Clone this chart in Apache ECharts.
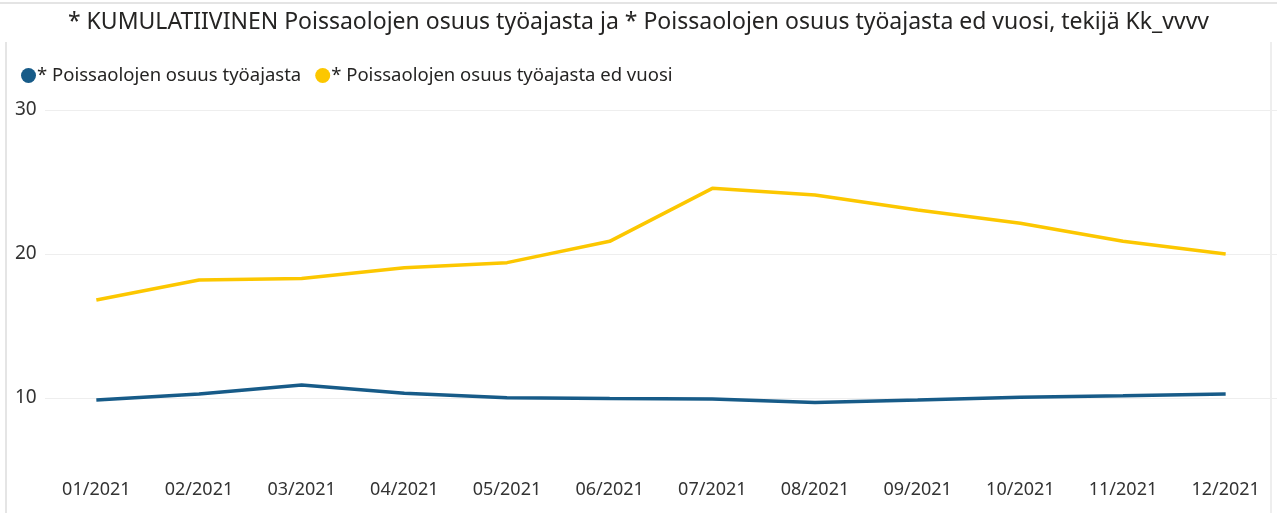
<!DOCTYPE html>
<html>
<head>
<meta charset="utf-8">
<script src="https://cdn.jsdelivr.net/npm/echarts@6/dist/echarts.min.js"></script>
<style>
  html, body { margin: 0; padding: 0; background: #fff; }
  #chart { width: 1277px; height: 513px; }
</style>
</head>
<body>
<div id="chart"></div>
<script>
// kuukaudet ja sarjat
const months = ['01/2021', '02/2021', '03/2021', '04/2021', '05/2021', '06/2021',
                '07/2021', '08/2021', '09/2021', '10/2021', '11/2021', '12/2021'];
const osuus = [9.86, 10.28, 10.9, 10.33, 10.02, 9.96, 9.93, 9.68, 9.86, 10.05, 10.16, 10.28];
const osuusEdVuosi = [16.8, 18.2, 18.3, 19.05, 19.4, 20.88, 24.56, 24.1, 23.06, 22.13, 20.88, 20.0];
const yTicks = [10, 20, 30];

const chart = echarts.init(document.getElementById('chart'));
const font = 'Noto Sans';

chart.setOption({
    animation: false,
    title: {
        text: '* KUMULATIIVINEN Poissaolojen osuus työajasta ja * Poissaolojen osuus työajasta ed vuosi, tekijä Kk_vvvv',
        left: 'center',
        top: 6,
        textStyle: { fontFamily: font, fontSize: 23, fontWeight: 'normal', color: '#252423' }
    },
    legend: {
        left: 16,
        top: 61,
        icon: 'circle',
        itemWidth: 15,
        itemHeight: 15,
        itemGap: 14,
        textStyle: { fontFamily: font, fontSize: 18.5, color: '#252423', padding: [0, 0, 0, -4] },
        data: ['* Poissaolojen osuus työajasta', '* Poissaolojen osuus työajasta ed vuosi']
    },
    grid: { left: 45, right: 0, top: 110, bottom: 115 },
    xAxis: {
        type: 'category',
        data: months,
        boundaryGap: true,
        axisLine: { show: false },
        axisTick: { show: false },
        axisLabel: { margin: 83, fontFamily: font, fontSize: 18, color: '#333' }
    },
    yAxis: {
        type: 'value',
        min: yTicks[0],
        max: yTicks[yTicks.length - 1],
        interval: 10,
        axisLine: { show: false },
        axisTick: { show: false },
        axisLabel: { align: 'left', margin: 30, fontFamily: font, fontSize: 19, color: '#333' },
        splitLine: { show: true, lineStyle: { color: '#eeeeee', width: 1 } }
    },
    graphic: [
        { type: 'line', shape: { x1: 0, y1: 3, x2: 1277, y2: 3 }, style: { stroke: '#e4e4e4', lineWidth: 2 } },
        { type: 'line', shape: { x1: 6, y1: 42, x2: 6, y2: 513 }, style: { stroke: '#dddddd', lineWidth: 1.5 } },
        { type: 'line', shape: { x1: 1271, y1: 42, x2: 1271, y2: 513 }, style: { stroke: '#e8e8e8', lineWidth: 1.5 } }
    ],
    series: [
        {
            name: '* Poissaolojen osuus työajasta',
            type: 'line',
            data: osuus,
            clip: false,
            symbol: 'none',
            color: '#175b88',
            lineStyle: { width: 3.5, color: '#175b88' }
        },
        {
            name: '* Poissaolojen osuus työajasta ed vuosi',
            type: 'line',
            data: osuusEdVuosi,
            clip: false,
            symbol: 'none',
            color: '#fcc700',
            lineStyle: { width: 3.5, color: '#fcc700' }
        }
    ]
});
</script>
</body>
</html>
